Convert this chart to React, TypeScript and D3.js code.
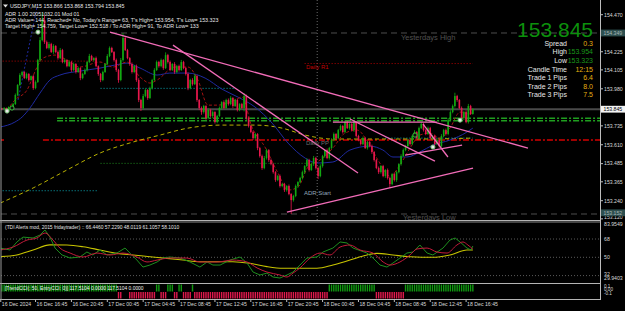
import React from "react";
import * as d3 from "d3";

// ---------- DATA ----------
// M15 closes, bar 0 = 16 Dec ~13:15, bar 210 = 18 Dec 17:30
const closes = [
  153.846,153.853,153.833,153.859,153.853,153.879,153.939,154.005,154.071,154.091,
  154.051,154.078,154.038,154.064,153.985,154.025,154.170,154.302,154.435,154.289,
  154.250,154.276,154.223,154.263,154.223,154.183,154.236,154.157,154.170,154.130,
  154.157,154.104,154.144,154.091,154.117,154.051,154.078,154.104,154.157,154.197,
  154.170,154.183,154.130,154.078,154.038,154.091,154.144,154.197,154.250,154.223,
  154.170,154.104,154.038,154.170,154.316,154.236,154.183,154.144,154.091,154.130,
  154.038,153.906,153.853,153.932,153.972,153.919,153.985,154.038,154.104,154.157,
  154.130,154.170,154.117,154.203,154.157,154.104,154.144,154.091,154.130,154.104,
  154.157,154.117,154.078,153.985,154.038,154.011,154.064,153.906,153.853,153.826,
  153.866,153.787,153.840,153.800,153.826,153.760,153.800,153.853,153.892,153.853,
  153.906,153.879,153.919,153.866,153.906,153.840,153.879,153.853,153.932,153.787,
  153.734,153.694,153.654,153.681,153.588,153.535,153.456,153.522,153.575,153.509,
  153.482,153.429,153.377,153.403,153.337,153.350,153.310,153.337,153.284,153.244,
  153.271,153.337,153.363,153.390,153.429,153.469,153.509,153.443,153.482,153.522,
  153.456,153.403,153.469,153.535,153.575,153.522,153.588,153.641,153.681,153.654,
  153.707,153.734,153.694,153.760,153.720,153.747,153.707,153.760,153.668,153.641,
  153.615,153.654,153.588,153.628,153.601,153.562,153.509,153.456,153.429,153.469,
  153.403,153.443,153.390,153.350,153.416,153.377,153.429,153.482,153.535,153.575,
  153.601,153.641,153.615,153.668,153.694,153.654,153.720,153.747,153.707,153.681,
  153.720,153.654,153.668,153.615,153.641,153.601,153.668,153.707,153.681,153.773,
  153.826,153.866,153.932,153.906,153.853,153.787,153.826,153.760,153.866,153.813,
  153.845,
];
const firstOpen = 153.85;
// upper / lower wick length of every bar, in points (0.001)
const wickUp = [
  4,6,3,5,4,8,10,6,12,8, 5,9,6,4,7,10,8,20,50,30, 10,14,8,12,6,10,14,8,10,6,
  12,8,10,6,9,5,8,10,6,14, 8,6,10,5,7,9,6,12,10,8, 6,10,8,14,33,12,8,6,10,8,
  10,12,8,14,10,6,9,8,12,10, 8,10,6,18,8,10,6,12,8,10, 14,8,6,10,8,12,14,8,6,10,
  8,6,12,8,10,6,8,10,6,12, 8,10,12,6,8,10,6,8,20,10, 8,6,10,8,6,8,10,14,8,6,
  10,8,6,8,10,6,8,6,10,6, 8,10,6,8,10,6,12,8,10,14, 8,10,12,8,6,10,8,12,10,6,
  8,10,6,12,8,6,10,8,6,8, 6,10,8,6,8,10,6,8,10,6, 8,6,10,8,6,10,8,6,12,10,
  8,10,6,8,12,6,10,14,8,6, 10,8,6,8,10,6,12,8,10,14, 12,10,22,8,6,10,8,12,14,8,6,
];
const wickDn = [
  5,4,6,3,5,4,6,8,5,10, 6,8,10,5,12,8,6,10,8,12, 8,10,6,12,8,10,6,8,10,8,
  6,12,8,10,6,14,8,6,10,8, 6,10,8,12,14,8,6,10,8,6, 10,12,18,8,10,6,8,12,10,8,
  12,14,20,10,8,12,6,10,8,6, 10,8,12,6,10,8,6,12,8,10, 6,8,10,14,8,10,6,12,14,18,
  10,12,8,10,14,10,8,6,10,8, 6,10,8,12,6,10,8,6,22,12, 10,8,12,10,14,10,12,8,10,12,
  8,10,12,8,10,8,12,10,8,92, 10,8,12,8,10,12,8,10,6,12, 10,20,8,10,12,8,10,6,8,10,
  6,8,10,8,6,10,8,12,10,8, 10,8,6,10,8,12,10,8,12,10, 8,12,10,27,8,10,12,8,10,6,
  8,6,10,8,6,10,8,6,10,8, 6,10,8,12,8,10,6,8,10,8, 6,8,10,12,8,10,14,8,10,6,4,
];

// moving averages, [bar, price]
const maBlue: [number, number][] = [
  [-0.8,153.727],[5.8,153.760],[9.0,153.793],[12.5,153.853],[17.0,153.952],[21.4,154.038],
  [25.9,154.071],[34.8,154.097],[43.7,154.117],[50.4,154.137],[55.8,154.150],[61.6,154.117],
  [69.2,154.071],[74.9,154.084],[83,154.084],[90.6,154.051],[98.1,153.978],[105.3,153.925],
  [112.9,153.859],[120.5,153.753],[127.6,153.621],[135.2,153.522],[140.5,153.489],[147.6,153.496],
  [155.2,153.575],[164.1,153.601],[169.9,153.575],[174.4,153.529],[180.6,153.529],[186.4,153.562],
  [192.2,153.608],[199.8,153.641],[207.4,153.694],[210,153.720],
];
const maRed: [number, number][] = [
  [2.3,153.840],[5.8,153.906],[11.2,153.972],[15.7,154.124],[18.3,154.183],[23.7,154.203],
  [29,154.170],[34.8,154.124],[43.7,154.157],[49.5,154.124],[55.8,154.157],[61.6,154.058],
  [66,154.018],[69.2,154.038],[77.2,154.124],[83,154.124],[87.4,154.038],[91.9,153.872],
  [96.4,153.872],[103.9,153.906],[107.1,153.925],[111.5,153.727],[117.3,153.595],[123.1,153.423],
  [127.6,153.310],[132,153.330],[136.5,153.462],[141.9,153.509],[147.6,153.588],[153,153.687],
  [158.4,153.707],[163.2,153.628],[167.7,153.509],[173.1,153.403],[177.5,153.476],[182,153.588],
  [186.4,153.674],[190.9,153.687],[195.4,153.654],[199.8,153.720],[204.3,153.826],[208.7,153.813],
  [210,153.833],
];
const maYellow: [number, number][] = [
  [-0.8,153.224],[13.9,153.324],[29,153.443],[43.7,153.555],[58.5,153.628],[70.5,153.674],
  [83,153.720],[98.1,153.740],[112.9,153.740],[124.9,153.720],[135.2,153.674],[147.6,153.648],
  [164.1,153.648],[186.4,153.648],[210,153.654],
];
const bandDotted: [number, number][] = [[7.2,153.906],[16.1,154.554]];

// trend lines [bar1, price1, bar2, price2]
const trendLines: [number, number, number, number][] = [
  [48.2,154.355,234.6,153.588],
  [76.3,154.269,158.8,153.423],
  [147.6,153.760,194,153.760],
  [155.2,153.780,193.1,153.502],
  [187.8,153.747,198.9,153.529],
  [179.8,153.542,205.2,153.608],
  [127.1,153.165,210.1,153.456],
];

// levels
const yesterdayHigh = 154.349;
const yesterdayLow = 153.152;
const bidPrice = 153.845;
const greenBand = [153.785, 153.769];
const greenBandStart = 24.6;
const dailyPP = 153.641;
const dailyPPStart = 18.3;
const dailyR1: [number, number, number] = [154.147, 135, 210];
const prevR1: [number, number, number] = [154.163, -1, 43];
const cyanLevels: [number, number, number][] = [[153.983, 44, 104], [153.654, 171, 210], [153.306, -1, 43]];
const greenDotLevel: [number, number, number] = [153.487, 44, 137.4];
const daySeparatorBar = 140.6;

// arrows / signal markers
const markerBars = [2.3, 4.5, 16.1, 184.2, 192.2, 204.3];
const markerPrices = [153.833, 153.853, 154.355, 153.674, 153.595, 153.773];
const markerWhite = [true, false, true, false, true, true];

// axis
const priceTicks = [154.47, 154.225, 154.105, 153.98, 153.735, 153.61, 153.485, 153.365, 153.24, 153.12];
const timeLabels = ["16 Dec 2024","16 Dec 16:45","16 Dec 20:45","17 Dec 00:45","17 Dec 04:45","17 Dec 08:45","17 Dec 12:45","17 Dec 16:45","17 Dec 20:45","18 Dec 00:45","18 Dec 04:45","18 Dec 08:45","18 Dec 12:45","18 Dec 16:45"];
const timeLabelBars = [-0.5,15,31,47,63,79,95,111,127,143,159,175,191,207];

// TDI
const tdiRsi: [number, number][] = [
  [-0.8,59.1],[3.6,57.2],[6.7,65.1],[9.4,69.9],[13.9,69.0],[17,71.9],[19.2,76.9],[21.4,70.0],
  [23.7,59.1],[26.8,52.3],[30.4,49.3],[34.8,50.3],[37.9,55.2],[40.6,52.3],[43.7,57.2],[46.9,52.3],
  [51.3,54.2],[54.9,59.1],[57.1,54.2],[60.2,47.3],[62.9,40.4],[66,42.4],[69.2,45.4],[71.8,49.3],
  [74.9,50.3],[79.4,49.3],[83.9,45.4],[88.3,40.4],[91.5,45.4],[94.1,42.4],[97.3,42.4],[101.7,47.3],
  [106.2,50.3],[109.3,44.4],[112,35.5],[115.1,32.6],[118.2,34.5],[120.9,30.6],[124,29.6],[127.1,32.6],
  [129.8,35.5],[132.9,42.4],[136,49.3],[140.5,50.3],[143.2,55.2],[147.6,59.1],[150.8,65.1],[153.9,64.1],
  [156.6,59.1],[162.8,54.2],[165.5,49.3],[168.6,42.4],[171.7,40.4],[174.4,44.4],[177.5,49.3],[180.6,54.2],
  [183.3,55.2],[186.4,62.1],[189.6,54.2],[192.2,52.3],[196.7,59.1],[199.8,67.0],[202.1,69.0],[204.3,65.1],
  [207.4,59.1],[209.2,57.2],[210,61.1],
];
const tdiSignal: [number, number][] = [
  [-0.8,57.2],[5,60.1],[11.2,67.0],[15.6,69.0],[19.2,73.9],[22.8,67.0],[25.9,59.1],[30.4,54.2],
  [36.2,50.3],[42.4,54.2],[48.2,52.3],[54,54.2],[60.2,50.3],[64.7,45.4],[69.2,47.3],[74.9,49.3],
  [82.5,49.3],[88.3,45.4],[96,45.4],[103,47.3],[109.3,45.4],[113.8,39.5],[118.2,35.5],[124,32.6],
  [127.1,30.6],[129.8,34.5],[132.9,39.5],[137.4,49.3],[141.9,54.2],[146.3,52.3],[150.8,60.1],[155.2,62.1],
  [159.7,57.2],[165.5,54.2],[170,45.4],[173.1,42.4],[177.5,45.4],[182,52.3],[185.1,58.2],[189.6,59.1],
  [194,55.2],[198.5,54.2],[202.9,62.1],[205.6,65.1],[207.8,62.1],[210,58.1],
];
const tdiBase: [number, number][] = [
  [-0.8,50.6],[6.6,52.3],[13.9,57.2],[21.4,62.2],[29,62.1],[36.2,60.4],[43.7,57.2],[51.3,53.9],
  [58.5,52.3],[66,50.6],[73.6,49.0],[80.8,47.3],[88.3,45.7],[96,45.7],[103,45.7],[110.6,44.1],
  [118.2,40.8],[125.4,39.2],[132.9,39.2],[140.5,39.2],[147.6,42.4],[155.2,47.3],[162.8,52.3],[167.3,53.9],
  [174.4,52.3],[182,50.6],[192.2,50],[199.8,52.3],[207.4,57.2],[210,57.2],
];
const tdiLevels = [68, 50, 32];
const tdiAxisLabels = ["83.9549", "68", "50", "32", "29.9403"];
const tdiAxisValues = [83.9549, 68, 50, 32, 29.9403];

// TrendCCI runs: [fromBar, toBar, direction]
const cciRuns: [number, number, number][] = [
  [0,51,1],[52,53,-1],[57,68,-1],[69,70,1],[71,73,-1],[74,76,1],[77,78,-1],[79,80,1],
  [81,84,-1],[85,85,1],[86,145,-1],[146,166,1],[167,179,-1],[180,210,1],
];

// info panel
const infoLabels = ["Spread", "High", "Low", "Candle Time", "Trade 1 Pips", "Trade 2 Pips", "Trade 3 Pips"];
const infoValues = ["0.3", "153.954", "153.323", "12:15", "6.4", "8.0", "7.5"];
const headerLines = [
  "USDJPY,M15  153.866 153.868 153.794 153.845",
  "ADR 1.00 20051032.01 Mod 01",
  "ADR Value= 144, Reached= No, Today's Range= 63, T's High= 153.954, T's Low= 153.323",
  "Target High= 154.759, Target Low= 152.518 / To ADR High= 91, To ADR Low= 133",
];

// ---------- CHART ----------
const FONT = '"Liberation Sans", Arial, Helvetica, sans-serif';
const BULL = "#12a812";
const BEAR = "#e8174c";
const PINK = "#f26cb8";

export default function App() {
  const xs = d3.scaleLinear().domain([0, 210]).range([1.9, 472.83]);
  const ys = d3.scaleLinear().domain([153.24, 154.47]).range([200.7, 14.7]);
  const ty = d3.scaleLinear().domain([29.9403, 83.9549]).range([277.7, 222.8]);
  const cy = d3.scaleLinear().domain([-0.1, 0.1]).range([298.5, 284.5]);

  const candles = closes.map((c, i) => {
    const o = i === 0 ? firstOpen : closes[i - 1];
    const h = Math.max(o, c) + wickUp[i] / 1000;
    const l = Math.min(o, c) - wickDn[i] / 1000;
    return { i, o, c, h, l };
  });

  const maLine = d3.line<[number, number]>().x(d => xs(d[0])).y(d => ys(d[1])).curve(d3.curveMonotoneX);
  const tdiSmooth = d3.line<[number, number]>().x(d => xs(d[0])).y(d => ty(d[1])).curve(d3.curveMonotoneX);
  const tdiJag = d3.line<[number, number]>().x(d => xs(d[0])).y(d => ty(d[1])).curve(d3.curveLinear);

  const seg = (p: number, a: number, b: number) => ({ x1: xs(a), x2: xs(b), y: ys(p) });
  const R = 600;

  return (
    <svg width={625} height={311} style={{ position: "absolute", left: 0, top: 0, display: "block" }} fontFamily={FONT}>
      <defs>
        <clipPath id="mainClip"><rect x={1} y={0} width={599} height={220.5} /></clipPath>
        <clipPath id="tdiClip"><rect x={1} y={222} width={599} height={61} /></clipPath>
      </defs>
      <rect x={0} y={0} width={625} height={311} fill="#000" />

      {/* ---------- MAIN ---------- */}
      <g clipPath="url(#mainClip)">
        <line x1={xs(daySeparatorBar)} x2={xs(daySeparatorBar)} y1={0} y2={221} stroke="#6a6a6a" strokeWidth={1} strokeDasharray="1 2" />
        {[yesterdayHigh, yesterdayLow].map((p, k) => (
          <line key={"yd" + k} x1={1} x2={R} y1={ys(p)} y2={ys(p)} stroke="#4c4c4c" strokeWidth={1} strokeDasharray="6 4" />
        ))}
        <line x1={1} x2={R} y1={ys(bidPrice)} y2={ys(bidPrice)} stroke="#4a4a4a" strokeWidth={2} />
        {(() => { const s = seg(prevR1[0], prevR1[1], prevR1[2]); return <line x1={s.x1} x2={s.x2} y1={s.y} y2={s.y} stroke="#b30000" strokeDasharray="1 2" />; })()}
        {(() => { const s = seg(dailyR1[0], dailyR1[1], dailyR1[2]); return <line x1={s.x1} x2={s.x2} y1={s.y} y2={s.y} stroke="#b30000" strokeDasharray="1 2" />; })()}
        {cyanLevels.map((c, k) => { const s = seg(c[0], c[1], c[2]); return <line key={"cy" + k} x1={s.x1} x2={s.x2} y1={s.y} y2={s.y} stroke="#0aa5b0" strokeDasharray="1 2" />; })}
        {(() => { const s = seg(greenDotLevel[0], greenDotLevel[1], greenDotLevel[2]); return <line x1={s.x1} x2={s.x2} y1={s.y} y2={s.y} stroke="#1f8a1f" strokeDasharray="1 2" />; })()}
        <line x1={1} x2={4} y1={ys(dailyPP)} y2={ys(dailyPP)} stroke="#d40000" strokeWidth={1.4} />
        <line x1={xs(dailyPPStart)} x2={R} y1={ys(dailyPP)} y2={ys(dailyPP)} stroke="#d40000" strokeWidth={1.4} strokeDasharray="6 2 2 2" />
        {greenBand.map((p, k) => (
          <line key={"gb" + k} x1={xs(greenBandStart)} x2={R} y1={ys(p)} y2={ys(p)} stroke="#1f9e1f" strokeWidth={1.4} strokeDasharray="6 2 2 2" />
        ))}

        <path d={maLine(maYellow) || ""} fill="none" stroke="#b8b000" strokeWidth={1} strokeDasharray="4 3" />
        <path d={maLine(maBlue) || ""} fill="none" stroke="#1f2aa0" strokeWidth={1} />
        <path d={maLine(bandDotted) || ""} fill="none" stroke="#1f2aa0" strokeWidth={1} strokeDasharray="2 2" />
        <path d={maLine(maRed) || ""} fill="none" stroke="#a31212" strokeWidth={1} strokeDasharray="3 2" />

        {candles.map(d => {
          const col = d.c >= d.o ? BULL : BEAR;
          const x = xs(d.i);
          const top = ys(Math.max(d.o, d.c));
          const bot = ys(Math.min(d.o, d.c));
          return (
            <g key={"c" + d.i}>
              <line x1={x} x2={x} y1={ys(d.h)} y2={ys(d.l)} stroke={col} strokeWidth={0.8} />
              <rect x={x - 0.8} y={top} width={1.6} height={Math.max(0.8, bot - top)} fill={col} />
            </g>
          );
        })}

        {trendLines.map((t, k) => (
          <line key={"tl" + k} x1={xs(t[0])} y1={ys(t[1])} x2={xs(t[2])} y2={ys(t[3])} stroke={PINK} strokeWidth={1.3} />
        ))}

        {markerBars.map((b, k) => (
          <circle key={"mk" + k} cx={xs(b)} cy={ys(markerPrices[k])} r={2.1}
            fill={markerWhite[k] ? "#e8e8e8" : "#0b0b0b"} stroke={markerWhite[k] ? "#6fbf6f" : "#3fcf3f"} strokeWidth={0.9} />
        ))}

        <text x={401} y={40.3} fontSize={7.5} fill="#505050">Yesterdays High</text>
        <text x={403} y={220.3} fontSize={7.5} fill="#505050">Yesterdays Low</text>
        <text x={306} y={68.8} fontSize={6} fill="#c40000">Daily R1</text>
        <text x={306} y={145} fontSize={6} fill="#6e6e6e">Daily PP</text>
        <text x={304} y={195} fontSize={6} fill="#93a6ba">ADR Start</text>
      </g>

      {/* header */}
      <polygon points="3,4.5 8,4.5 5.5,7.5" fill="#e0e0e0" />
      {headerLines.map((t, k) => (
        <text key={"h" + k} x={k === 0 ? 10 : 5} y={[7.6, 16.2, 21.9, 27.9][k]} fontSize={5.3} fill="#e6e6e6">{t}</text>
      ))}

      {/* info block */}
      <text x={593} y={37} fontSize={21} fill="#0c900c" textAnchor="end">153.845</text>
      {infoLabels.map((t, k) => {
        const yb = [45.8, 54.2, 63.4, 71.8, 79.8, 88.5, 96.8][k];
        const vc = k === 1 || k === 2 ? "#1a961a" : "#e6b010";
        return (
          <g key={"inf" + k}>
            <text x={567} y={yb} fontSize={7} fill="#e8e8e8" textAnchor="end">{t}</text>
            <text x={593} y={yb} fontSize={7} fill={vc} textAnchor="end">{infoValues[k]}</text>
          </g>
        );
      })}

      {/* ---------- TDI ---------- */}
      <g clipPath="url(#tdiClip)">
        {tdiLevels.map(v => (
          <line key={"tl" + v} x1={1} x2={R} y1={ty(v)} y2={ty(v)} stroke="#5a5a5a" strokeDasharray="1 2" />
        ))}
        <path d={tdiSmooth(tdiBase) || ""} fill="none" stroke="#c8c400" strokeWidth={1.1} />
        <path d={tdiJag(tdiRsi) || ""} fill="none" stroke="#1e8e1e" strokeWidth={1} />
        <path d={tdiSmooth(tdiSignal) || ""} fill="none" stroke="#c21a3a" strokeWidth={1} />
      </g>
      <text x={5} y={228.8} fontSize={4.9} fill="#e6e6e6">(TDI Alerts mod, 2015 fridaytrader) ::  66.4460 57.2290 48.0119 61.1057 58.1010</text>

      {/* ---------- TrendCCI ---------- */}
      {cciRuns.flatMap((r, k) => {
        const out: JSX.Element[] = [];
        for (let b = r[0]; b <= r[1]; b++) {
          const yTop = r[2] > 0 ? cy(0.1) : cy(0) + 0.5;
          const yBot = r[2] > 0 ? cy(0) : cy(-0.1);
          out.push(<rect key={"cc" + k + "_" + b} x={xs(b) - 0.7} y={yTop} width={1.4} height={yBot - yTop} fill={r[2] > 0 ? "#109a10" : "#e0184c"} />);
        }
        return out;
      })}
      <text x={5} y={289.8} fontSize={4.9} fill="#f0f0f0">[TrendCCI(: 50, EntryCCI: 0)]  117.5104 0.0000 117.5104 0.0000</text>

      {/* ---------- frames ---------- */}
      <line x1={0} x2={R} y1={220.5} y2={220.5} stroke="#b4b4b4" strokeWidth={1} />
      <line x1={0} x2={R} y1={222} y2={222} stroke="#8a8a8a" strokeWidth={1} />
      <line x1={0} x2={R} y1={283.5} y2={283.5} stroke="#b4b4b4" strokeWidth={1.2} />
      <line x1={0} x2={R} y1={299.5} y2={299.5} stroke="#b4b4b4" strokeWidth={1} />
      <line x1={1} x2={1} y1={0} y2={300} stroke="#9a9a9a" strokeWidth={1} />
      <line x1={R + 0.5} x2={R + 0.5} y1={0} y2={300} stroke="#bdbdbd" strokeWidth={1} />

      {/* price axis */}
      {priceTicks.map(p => (
        <g key={"pt" + p}>
          <line x1={R} x2={R + 3} y1={ys(p)} y2={ys(p)} stroke="#bdbdbd" />
          <text x={604} y={Math.min(ys(p), 217.5) + 1.8} fontSize={5.2} fill="#d8d8d8">{p.toFixed(3)}</text>
        </g>
      ))}
      {[yesterdayHigh, bidPrice, yesterdayLow].map((p, k) => (
        <g key={"hl" + k}>
          <rect x={601} y={Math.min(ys(p), 212.8) - 3.4} width={24} height={6.8} fill={k === 1 ? "#f4f4f4" : "#2e4f4f"} />
          <text x={603.5} y={Math.min(ys(p), 212.8) + 1.8} fontSize={5.2} fill={k === 1 ? "#000" : "#a8b8b8"}>{p.toFixed(3)}</text>
        </g>
      ))}
      {tdiAxisValues.map((v, k) => (
        <text key={"ta" + k} x={604} y={ty(v) + 1.8 + (k === 0 ? 1.5 : 0) + (k === 3 ? -1.5 : 0) + (k === 4 ? 0.8 : 0)} fontSize={5.2} fill="#d8d8d8">{tdiAxisLabels[k]}</text>
      ))}
      {["0.1", "0.00", "-0.1"].map((t, k) => (
        <text key={"ca" + k} x={604} y={[287.8, 291.2, 295.2][k]} fontSize={4.6} fill="#d8d8d8">{t}</text>
      ))}

      {/* time axis */}
      {timeLabels.map((t, k) => (
        <g key={"tx" + k}>
          <line x1={xs(timeLabelBars[k])} x2={xs(timeLabelBars[k])} y1={299.5} y2={302} stroke="#bdbdbd" />
          <text x={xs(timeLabelBars[k]) + 1} y={306} fontSize={5.2} fill="#d8d8d8">{t}</text>
        </g>
      ))}
    </svg>
  );
}
